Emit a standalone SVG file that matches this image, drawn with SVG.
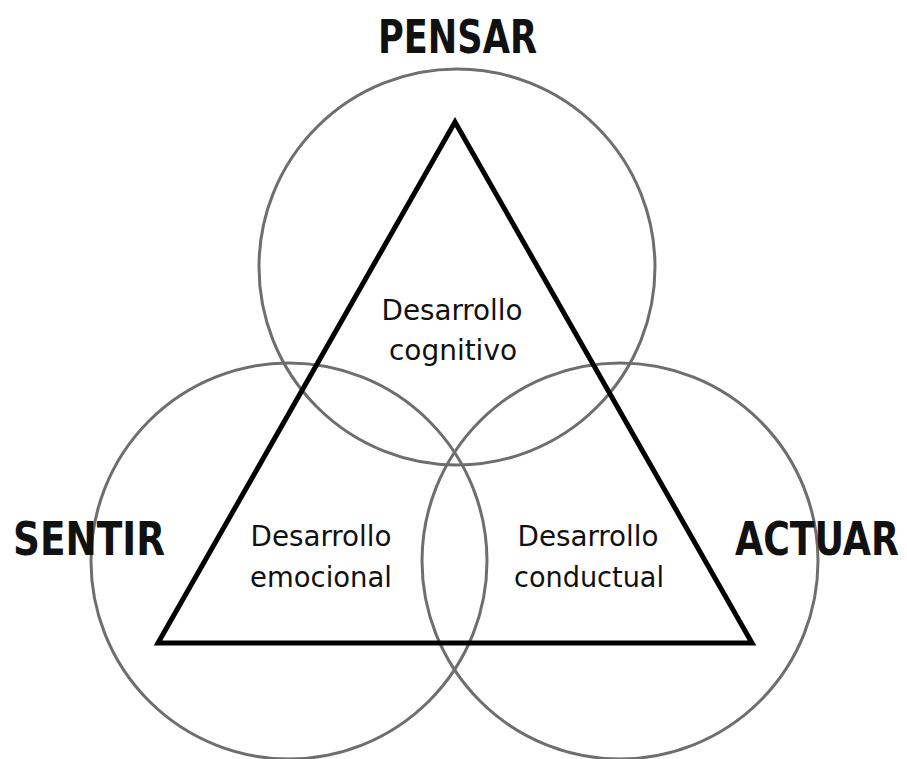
<svg xmlns="http://www.w3.org/2000/svg" width="907" height="759" viewBox="0 0 907 759">
<style>
.c{fill:none;stroke:#6e6e6e;stroke-width:3}
.t{fill:none;stroke:#000;stroke-width:5;stroke-linejoin:miter}
.h{font-family:"DejaVu Sans Condensed","DejaVu Sans",sans-serif;font-weight:bold;font-size:47px;fill:#111}
.b{font-family:"DejaVu Sans Condensed","DejaVu Sans",sans-serif;font-size:29px;fill:#111;text-anchor:middle}
</style>
<rect width="907" height="759" fill="#fff"/>
<g id="circles">
<circle id="circle-pensar" class="c" cx="457" cy="267" r="198"/>
<circle id="circle-sentir" class="c" cx="289" cy="561" r="198"/>
<circle id="circle-actuar" class="c" cx="620" cy="561" r="198"/>
</g>
<g id="triangle">
<polygon class="t" points="455,122 158,643 752,643"/>
</g>
<g id="pensar"><text class="h" x="378" y="53" textLength="159" lengthAdjust="spacingAndGlyphs">PENSAR</text></g>
<g id="sentir"><text class="h" x="13" y="555" textLength="152" lengthAdjust="spacingAndGlyphs">SENTIR</text></g>
<g id="actuar"><text class="h" x="735" y="555" textLength="164" lengthAdjust="spacingAndGlyphs">ACTUAR</text></g>
<g id="cognitivo">
<text class="b" x="452" y="320" textLength="141" lengthAdjust="spacingAndGlyphs">Desarrollo</text>
<text class="b" x="453" y="360" textLength="128" lengthAdjust="spacingAndGlyphs">cognitivo</text>
</g>
<g id="emocional">
<text class="b" x="321" y="546" textLength="141" lengthAdjust="spacingAndGlyphs">Desarrollo</text>
<text class="b" x="321" y="587" textLength="142" lengthAdjust="spacingAndGlyphs">emocional</text>
</g>
<g id="conductual">
<text class="b" x="588" y="546" textLength="141" lengthAdjust="spacingAndGlyphs">Desarrollo</text>
<text class="b" x="589" y="587" textLength="150" lengthAdjust="spacingAndGlyphs">conductual</text>
</g>
</svg>
